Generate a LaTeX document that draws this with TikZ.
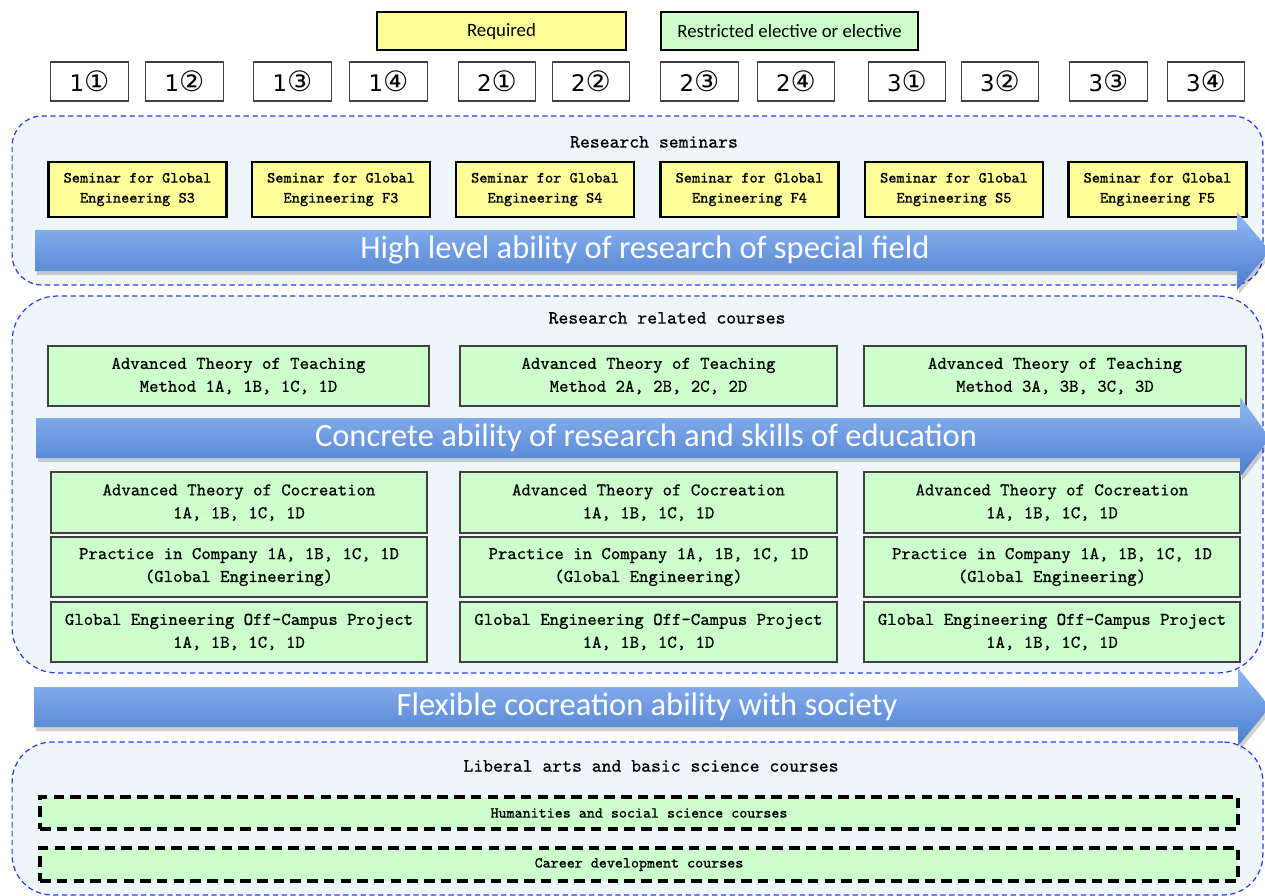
\documentclass[tikz,border=0pt]{standalone}
\usepackage{fontspec}
\usepackage{tikz}
\usetikzlibrary{positioning, calc, shapes}
\newfontfamily\calfont{Carlito}
\newfontfamily\symfont{DejaVu Sans}
\newfontfamily\boxfont{Latin Modern Mono}[FakeBold=0.6]
\definecolor{regionfill}{RGB}{238,246,250}
\definecolor{regionline}{RGB}{40,60,235}
\definecolor{reqyellow}{RGB}{255,255,153}
\definecolor{elecgreen}{RGB}{204,255,204}
\definecolor{arrowtop}{RGB}{145,184,244}
\definecolor{arrowbot}{RGB}{75,125,205}
\definecolor{boxline}{RGB}{64,64,64}

\begin{document}
\begin{tikzpicture}[x=0.02cm, y=-0.02cm,
  legend/.style={draw=black, line width=1.3pt, inner sep=0pt, minimum height=0.76cm, font=\calfont\fontsize{10.7}{12}\selectfont},
  term/.style={draw=boxline, line width=0.7pt, fill=white, inner sep=0pt, minimum width=1.55cm, minimum height=0.78cm, font=\symfont\fontsize{13}{14}\selectfont},
  region/.style={draw=regionline, fill=regionfill, dash pattern=on 3pt off 2pt, line width=0.7pt, inner sep=0pt, minimum width=25.02cm},
  heading/.style={font=\boxfont\fontsize{10.7}{13}\selectfont},
  seminar/.style={draw=black, line width=1.3pt, fill=reqyellow, inner sep=0pt, minimum width=3.56cm, minimum height=1.1cm, align=center, font=\boxfont\fontsize{8.9}{11.4}\selectfont},
  course/.style={draw=boxline, line width=0.7pt, fill=elecgreen, inner sep=0pt, minimum height=1.2cm, align=center, font=\boxfont\fontsize{10.2}{13}\selectfont},
  basic/.style={draw=black, line width=2pt, dash pattern=on 6pt off 3.5pt, fill=elecgreen, inner sep=0pt, minimum width=23.96cm, font=\boxfont\fontsize{8.7}{10}\selectfont},
  arrowtext/.style={text=white, font=\calfont\fontsize{18.5}{20}\selectfont},
  arrowshade/.style={top color=arrowtop, bottom color=arrowbot},
  arrowshadow/.style={fill=black, opacity=0.18, xshift=0.04cm, yshift=-0.08cm},
]
  \useasboundingbox (0,0) rectangle (1265,896);

  % legend and terms
  \node[legend, fill=reqyellow, minimum width=4.98cm] (required) at (501.5,31) {Required};
  \node[legend, fill=elecgreen, minimum width=5.14cm] (elective) at (789.5,31) {Restricted elective or elective};
  \foreach \cx/\yr/\qt [count=\i] in {89.5/1/①, 184.5/1/②, 292.5/1/③, 388.5/1/④, 497/2/①, 591/2/②, 699.5/2/③, 796/2/④, 907/3/①, 1000/3/②, 1108.5/3/③, 1206/3/④}
    \node[term] (term\i) at (\cx,81.5) {\yr{\fontsize{16}{14}\selectfont\qt}};

  % regions
  \node[region, rounded corners=0.6cm, minimum height=3.38cm] (semregion) at (637.5,200.5) {};
  \node[region, rounded corners=0.9cm, minimum height=7.54cm] (resregion) at (637.5,484.5) {};
  \node[region, rounded corners=0.8cm, minimum height=3.06cm] (libregion) at (637.5,818.5) {};

  % research seminars
  \node[heading] (semhead) at (654,142) {Research seminars};
  \foreach \cx/\lab in {137.5/S3, 341/F3, 545/S4, 749.5/F4, 954/S5, 1157.5/F5}
    \node[seminar] (sem\lab) at (\cx,189.5) {Seminar for Global\\Engineering \lab};

  % research related courses
  \node[heading] (reshead) at (667,318) {Research related courses};
  \foreach \cx/\bw/\lab in {238.5/7.62/1, 648.5/7.54/2, 1055/7.64/3}
    \node[course, minimum width=\bw cm] (teach\lab) at (\cx,376) {Advanced Theory of Teaching\\Method \lab A, \lab B, \lab C, \lab D};
  \foreach \cx/\bw [count=\i] in {239/7.52, 648.5/7.54, 1052/7.52} {
    \node[course, minimum width=\bw cm, minimum height=1.22cm] (cocr\i) at (\cx,502.5) {Advanced Theory of Cocreation\\1A, 1B, 1C, 1D};
    \node[course, minimum width=\bw cm] (prac\i) at (\cx,567) {Practice in Company 1A, 1B, 1C, 1D\\(Global Engineering)};
    \node[course, minimum width=\bw cm] (offc\i) at (\cx,632) {Global Engineering Off-Campus Project\\1A, 1B, 1C, 1D};
  }

  % liberal arts
  \node[heading] (libhead) at (651,766) {Liberal arts and basic science courses};
  \node[basic, minimum height=0.64cm] (human) at (639,813) {Humanities and social science courses};
  \node[basic, minimum height=0.66cm] (career) at (639,864.5) {Career development courses};

  % ability arrows
  \fill[arrowshadow] (35,230) -- (1237,230) -- (1237,212) -- (1270,251) -- (1237,290) -- (1237,271) -- (35,271) -- cycle;
  \shade[arrowshade] (35,230) -- (1237,230) -- (1237,212) -- (1270,251) -- (1237,290) -- (1237,271) -- (35,271) -- cycle;
  \node[arrowtext] (ability1) at (645,250) {High level ability of research of special field};

  \fill[arrowshadow] (36,418) -- (1240,418) -- (1240,397) -- (1270,438) -- (1240,477) -- (1240,458) -- (36,458) -- cycle;
  \shade[arrowshade] (36,418) -- (1240,418) -- (1240,397) -- (1270,438) -- (1240,477) -- (1240,458) -- (36,458) -- cycle;
  \node[arrowtext] (ability2) at (646,438) {Concrete ability of research and skills of education};

  \fill[arrowshadow] (34,687) -- (1238,687) -- (1238,668) -- (1270,707) -- (1238,746) -- (1238,727) -- (34,727) -- cycle;
  \shade[arrowshade] (34,687) -- (1238,687) -- (1238,668) -- (1270,707) -- (1238,746) -- (1238,727) -- (34,727) -- cycle;
  \node[arrowtext] (ability3) at (647,707) {Flexible cocreation ability with society};
\end{tikzpicture}
\end{document}
